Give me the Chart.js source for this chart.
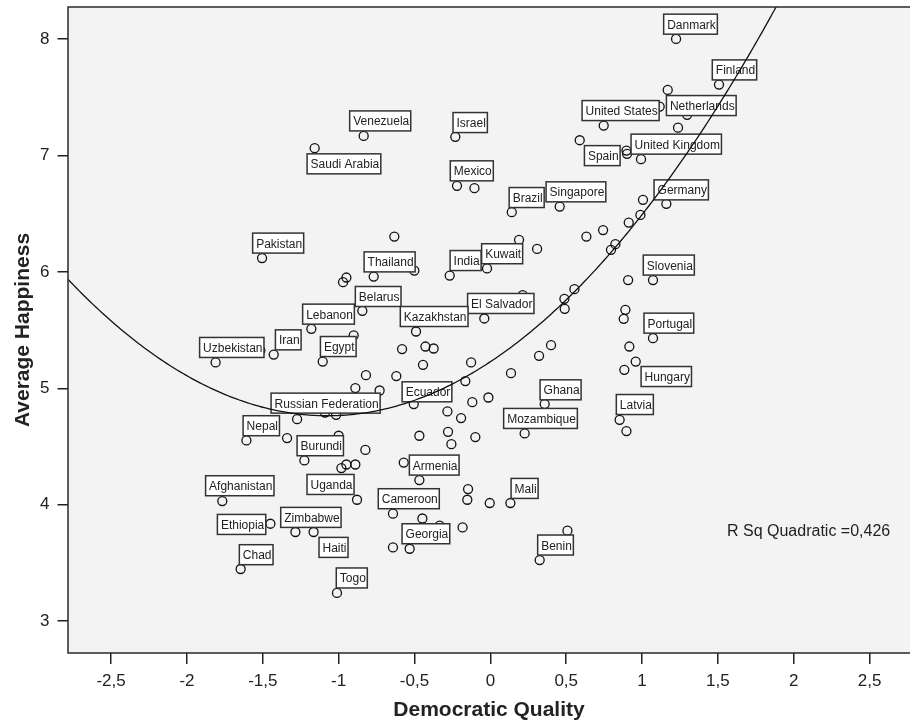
<!DOCTYPE html>
<html>
<head>
<meta charset="utf-8">
<script src="https://cdn.jsdelivr.net/npm/chart.js@4.4.1/dist/chart.umd.min.js"></script>
<style>
html, body { margin: 0; padding: 0; background: #fff; }
#wrap { width: 910px; height: 724px; }
</style>
</head>
<body>
<div id="wrap"><canvas id="myChart" width="910" height="724"></canvas></div>
<script>
// countries ('' = unlabeled point)
var countries = [
  "Danmark", "Finland", "", "", "Netherlands", "", "United States", "Spain", "", "United Kingdom",
  "", "Germany", "", "", "", "", "", "", "", "",
  "", "Venezuela", "Israel", "Saudi Arabia", "Mexico", "", "Brazil", "Singapore", "Pakistan", "",
  "Thailand", "", "", "", "India", "Kuwait", "", "El Salvador", "Belarus", "Kazakhstan",
  "", "", "", "", "", "", "", "", "", "",
  "", "", "", "", "", "", "", "Ecuador", "", "",
  "", "", "", "", "Ghana", "Mozambique", "", "", "", "",
  "", "", "Slovenia", "", "", "", "Portugal", "", "Hungary", "",
  "Latvia", "", "Lebanon", "Iran", "", "Uzbekistan", "Egypt", "Russian Federation", "Nepal", "",
  "Burundi", "Afghanistan", "Ethiopia", "Zimbabwe", "Haiti", "Chad", "", "", "", "",
  "Armenia", "Uganda", "Cameroon", "", "", "", "", "", "", "Mali",
  "Georgia", "", "Togo", "Benin", ""
];
var democraticQuality = [
  1.224, 1.507, 1.169, 1.116, 1.297, 1.237, 0.747, 0.589, 0.897, 0.901,
  0.993, 1.16, 1.006, 0.989, 0.912, 0.743, 0.824, 0.795, 0.633, 0.189,
  0.308, -0.835, -0.231, -1.158, -0.22, -0.105, 0.141, 0.457, -1.505, -0.633,
  -0.769, -0.501, -0.949, -0.971, -0.268, -0.022, 0.213, -0.04, -0.844, -0.49,
  -0.901, -0.582, -0.428, -0.374, -0.444, -0.127, 0.554, 0.488, 0.49, 0.4,
  0.321, 0.136, -0.82, -0.62, -0.89, -0.73, -0.165, -0.505, -0.119, -0.013,
  -0.283, -0.193, -1.017, -1.09, 0.358, 0.226, -0.468, -0.279, -0.257, -0.099,
  -1.0, -0.824, 1.072, 0.908, 0.89, 0.879, 1.072, 0.916, 0.958, 0.883,
  0.852, 0.897, -1.18, -1.428, -1.516, -1.811, -1.105, -1.274, -1.608, -1.34,
  -1.226, -1.767, -1.45, -1.285, -1.165, -1.646, -0.982, -0.949, -0.89, -0.571,
  -0.468, -0.879, -0.642, -0.448, -0.334, -0.183, -0.147, -0.152, -0.004, 0.132,
  -0.532, -0.642, -1.011, 0.325, 0.508
];
var avgHappiness = [
  8.003, 7.61, 7.564, 7.421, 7.35, 7.24, 7.258, 7.132, 7.043, 7.015,
  6.969, 6.585, 6.62, 6.49, 6.424, 6.36, 6.239, 6.19, 6.304, 6.276,
  6.198, 7.169, 7.161, 7.064, 6.74, 6.72, 6.514, 6.562, 6.119, 6.304,
  5.96, 6.012, 5.952, 5.912, 5.969, 6.03, 5.80, 5.60, 5.666, 5.488,
  5.454, 5.337, 5.359, 5.342, 5.202, 5.222, 5.852, 5.769, 5.683, 5.371,
  5.279, 5.13, 5.113, 5.105, 5.002, 4.981, 5.062, 4.864, 4.881, 4.921,
  4.801, 4.744, 4.772, 4.792, 4.864, 4.612, 4.592, 4.626, 4.52, 4.581,
  4.592, 4.47, 5.93, 5.93, 5.674, 5.597, 5.431, 5.359, 5.23, 5.159,
  4.729, 4.632, 5.511, 5.29, 5.325, 5.222, 5.23, 4.735, 4.552, 4.572,
  4.38, 4.031, 3.836, 3.765, 3.765, 3.447, 4.314, 4.345, 4.345, 4.362,
  4.211, 4.042, 3.922, 3.881, 3.819, 3.804, 4.134, 4.042, 4.014, 4.014,
  3.621, 3.632, 3.241, 3.524, 3.776
];
var xTicks = [-2.5, -2, -1.5, -1, -0.5, 0, 0.5, 1, 1.5, 2, 2.5];
var yTicks = [3, 4, 5, 6, 7, 8];
// quadratic fit line (c0 + c1*x + c2*x^2)
var fitCoef = [5.228, 0.863, 0.4014];
var rSqText = "R Sq Quadratic =0,426";

// layout: label box offset (left, bottom) from its point, in pixels
var labelOffsets = {
  "Danmark": [-12.4, -4.7], "Finland": [-6.7, -4.7], "Netherlands": [-20.7, 0.7],
  "United States": [-21.6, -5], "Spain": [4.7, 25.4], "United Kingdom": [4, 0.3],
  "Germany": [-12.3, -4], "Venezuela": [-14, -5], "Israel": [-2.3, -4.3],
  "Saudi Arabia": [-7.6, 25.7], "Mexico": [-6.7, -5], "Brazil": [-2.6, -4.6],
  "Singapore": [-13.6, -4.7], "Pakistan": [-9.4, -5], "Thailand": [-9.6, -4.7],
  "India": [0.4, -5], "Kuwait": [-5.4, -4.7], "Belarus": [-7, -4.3],
  "Kazakhstan": [-15.7, -5], "El Salvador": [-16.7, -5], "Lebanon": [-8.7, -4.7],
  "Iran": [1.7, -4.7], "Uzbekistan": [-16, -5], "Egypt": [-2.3, -5],
  "Russian Federation": [-26, -6], "Ecuador": [-11.6, -2.3], "Ghana": [-4.6, -4.3],
  "Mozambique": [-21, -5], "Nepal": [-3.3, -4.7], "Burundi": [-7.3, -4.7],
  "Slovenia": [-9.7, -5], "Portugal": [-9, -5], "Hungary": [5.4, 25],
  "Latvia": [-3.3, -5.3], "Afghanistan": [-16.7, -5.3], "Ethiopia": [-53, 10.7],
  "Zimbabwe": [-14.7, -4.6], "Uganda": [-50, -5.3], "Haiti": [5.4, 25.4],
  "Chad": [-1.3, -4.3], "Armenia": [-10, -5], "Cameroon": [-14.7, -5],
  "Georgia": [-7.6, -5], "Mali": [0.7, -4.6], "Benin": [-2, -5], "Togo": [-0.7, -5]
};

var FONT = "'Liberation Sans', Arial, Helvetica, sans-serif";
var xMin = -2.784, xMax = 2.766, yMin = 2.725, yMax = 8.277;

var points = democraticQuality.map(function(x, i){ return {x: x, y: avgHappiness[i]}; });

var curve = [];
for (var i = 0; i <= 300; i++) {
  var cx = xMin + (xMax - xMin) * i / 300;
  curve.push({x: cx, y: fitCoef[0] + fitCoef[1]*cx + fitCoef[2]*cx*cx});
}

var plotFrame = {
  id: 'plotFrame',
  beforeDraw: function(chart){
    var a = chart.chartArea, c = chart.ctx;
    c.save();
    c.fillStyle = '#f3f3f3';
    c.fillRect(a.left, a.top, a.right - a.left, a.bottom - a.top);
    c.restore();
  },
  afterDatasetDraw: function(chart, args){
    if (args.index !== 0) return;
    var c = chart.ctx, xs = chart.scales.x, ys = chart.scales.y;
    c.save();
    c.font = '12px ' + FONT;
    countries.forEach(function(name, i){
      if (!name) return;
      var off = labelOffsets[name] || [-5, -5];
      var px = xs.getPixelForValue(democraticQuality[i]);
      var py = ys.getPixelForValue(avgHappiness[i]);
      var w = c.measureText(name).width + 5;
      var left = px + off[0], bottom = py + off[1], top = bottom - 20;
      c.fillStyle = '#fff';
      c.fillRect(left, top, w, 20);
      c.strokeStyle = '#333';
      c.lineWidth = 1.5;
      c.strokeRect(left, top, w, 20);
      c.fillStyle = '#222';
      c.textBaseline = 'alphabetic';
      c.fillText(name, left + 3.5, top + 14.5);
    });
    c.restore();
  },
  afterDraw: function(chart){
    var a = chart.chartArea, c = chart.ctx;
    c.save();
    c.strokeStyle = '#2a2a2a';
    c.lineWidth = 1.5;
    c.beginPath();
    c.moveTo(a.right, a.top);
    c.lineTo(a.left, a.top);
    c.lineTo(a.left, a.bottom);
    c.lineTo(a.right, a.bottom);
    c.stroke();
    c.fillStyle = '#222';
    c.font = '16px ' + FONT;
    c.textBaseline = 'alphabetic';
    c.fillText(rSqText, 727, 536);
    c.restore();
  }
};

new Chart("myChart", {
  type: "scatter",
  data: {
    datasets: [{
      data: points,
      order: 1,
      pointStyle: 'circle',
      pointRadius: 4.5,
      pointBorderWidth: 1.3,
      pointBorderColor: '#111',
      pointBackgroundColor: 'rgba(0,0,0,0)',
      showLine: false
    }, {
      type: 'line',
      data: curve,
      order: 0,
      borderColor: '#111',
      borderWidth: 1.3,
      pointRadius: 0,
      fill: false,
      tension: 0
    }]
  },
  options: {
    responsive: false,
    animation: false,
    devicePixelRatio: 1,
    layout: { autoPadding: false, padding: { top: 7, right: 0, bottom: 0, left: 0 } },
    plugins: { legend: { display: false }, tooltip: { enabled: false } },
    scales: {
      x: {
        type: 'linear', min: xMin, max: xMax,
        afterBuildTicks: function(s){ s.ticks = xTicks.map(function(v){ return {value: v}; }); },
        afterFit: function(s){ s.height = 71; s.paddingLeft = 0; s.paddingRight = 0; },
        grid: { drawOnChartArea: false, drawTicks: true, tickLength: 11, tickColor: '#222', lineWidth: 1.5 },
        border: { display: false },
        ticks: {
          autoSkip: false, maxRotation: 0, padding: 7, color: '#222',
          font: { family: FONT, size: 17 },
          callback: function(v){ return String(Math.round(v * 10) / 10).replace('.', ','); }
        },
        title: {
          display: true, text: 'Democratic Quality', color: '#222',
          font: { family: FONT, size: 21, weight: 'bold', lineHeight: 1 },
          padding: { top: 0, bottom: 3 }
        }
      },
      y: {
        type: 'linear', min: yMin, max: yMax,
        afterBuildTicks: function(s){ s.ticks = yTicks.map(function(v){ return {value: v}; }); },
        afterFit: function(s){ s.width = 68; s.paddingTop = 0; s.paddingBottom = 0; },
        grid: { drawOnChartArea: false, drawTicks: true, tickLength: 10.5, tickColor: '#222', lineWidth: 1.5 },
        border: { display: false },
        ticks: {
          autoSkip: false, padding: 8, color: '#222',
          font: { family: FONT, size: 17 }
        },
        title: {
          display: true, text: 'Average Happiness', color: '#222',
          font: { family: FONT, size: 21, weight: 'bold', lineHeight: 1 },
          padding: { top: 13, bottom: 0 }
        }
      }
    }
  },
  plugins: [plotFrame]
});
</script>
</body>
</html>
